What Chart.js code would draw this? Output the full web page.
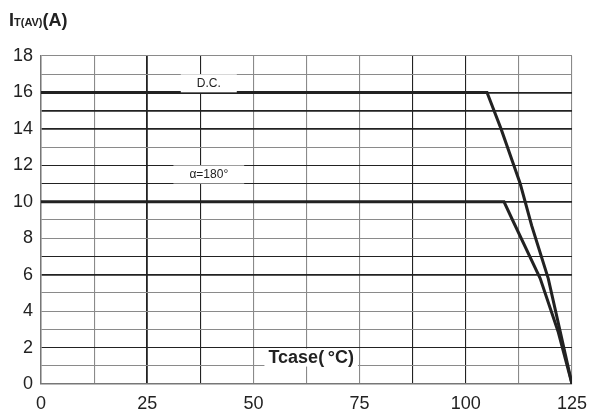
<!DOCTYPE html>
<html>
<head>
<meta charset="utf-8">
<script src="https://cdn.jsdelivr.net/npm/chart.js@4/dist/chart.umd.min.js"></script>
<style>
  html, body { margin: 0; padding: 0; background: #fff; }
  #wrap { width: 592px; height: 419px; position: relative; }
</style>
</head>
<body>
<div id="wrap"><canvas id="chart"></canvas></div>
<script>
// Tcase (°C) -> IT(AV) (A)
const dcTemp = [0, 105, 108.3, 112.8, 115.5, 119.4, 122.2, 125];
const dcCurrent = [16, 16, 14, 11, 8.7, 5.8, 2.9, 0];
const halfTemp = [0, 109, 111, 117.5, 121.7, 125];
const halfCurrent = [10, 10, 9, 5.8, 2.9, 0];

const xTickLabels = [0, 25, 50, 75, 100, 125];
const yTickLabels = [0, 2, 4, 6, 8, 10, 12, 14, 16, 18];

// grid lines drawn darker in the original
const darkY = [2, 6, 7, 10, 11, 12, 14, 15, 16];
const darkX = [25, 37.5, 87.5, 100];

const toPoints = (xs, ys) => xs.map((x, i) => ({ x, y: ys[i] }));

const FONT = '"Liberation Sans", Arial, sans-serif';

const labelsPlugin = {
  id: 'labels',
  afterDatasetsDraw(chart) {
    const { ctx, scales } = chart;
    const x = scales.x, y = scales.y;
    function boxed(text, vx, vy, font, padX) {
      ctx.save();
      ctx.font = font;
      const w = ctx.measureText(text).width;
      const px = x.getPixelForValue(vx), py = y.getPixelForValue(vy);
      ctx.fillStyle = '#fff';
      ctx.fillRect(px - w / 2 - padX, py - 9, w + padX * 2, 18);
      ctx.fillStyle = '#222';
      ctx.textAlign = 'center';
      ctx.textBaseline = 'middle';
      ctx.fillText(text, px, py);
      ctx.restore();
    }
    boxed('D.C.', 39.5, 16.5, '12px ' + FONT, 16);
    boxed('α=180°', 39.5, 11.5, '12px ' + FONT, 16);
    boxed('Tcase(\u2009°C)', 63.6, 1.45, 'bold 18px ' + FONT, 4);

    // axis title top left
    ctx.save();
    ctx.fillStyle = '#222';
    ctx.textBaseline = 'alphabetic';
    ctx.font = 'bold 18px ' + FONT;
    ctx.fillText('I', 9, 26);
    let off = 9 + ctx.measureText('I').width;
    ctx.font = 'bold 11px ' + FONT;
    ctx.fillText('T(AV)', off, 26);
    off += ctx.measureText('T(AV)').width;
    ctx.font = 'bold 18px ' + FONT;
    ctx.fillText('(A)', off, 26);
    ctx.restore();
  }
};

new Chart(document.getElementById('chart'), {
  type: 'line',
  data: {
    datasets: [
      { label: 'D.C.', data: toPoints(dcTemp, dcCurrent), borderColor: '#222', borderWidth: 3, pointRadius: 0, tension: 0 },
      { label: 'α=180°', data: toPoints(halfTemp, halfCurrent), borderColor: '#222', borderWidth: 3, pointRadius: 0, tension: 0 }
    ]
  },
  options: {
    responsive: true,
    maintainAspectRatio: false,
    animation: false,
    layout: { padding: { left: 0, right: 0, top: 56, bottom: 0 } },
    plugins: { legend: { display: false }, tooltip: { enabled: false } },
    scales: {
      x: {
        type: 'linear',
        min: 0,
        max: 125,
        afterBuildTicks(axis) {
          const t = [];
          for (let v = 0; v <= 125; v += 12.5) t.push({ value: v });
          axis.ticks = t;
        },
        ticks: {
          autoSkip: false,
          maxRotation: 0,
          padding: 9,
          color: '#222',
          font: { family: FONT, size: 18 },
          callback: (v) => (xTickLabels.includes(v) ? String(v) : '')
        },
        grid: {
          drawTicks: false,
          color: (c) => (darkX.includes(c.tick && c.tick.value) ? '#222' : '#8a8a8a'),
          lineWidth: (c) => (c.tick && c.tick.value === 25 ? 1.8 : 1.1)
        },
        border: { color: '#777', width: 1.5 },
        afterFit(axis) {
          axis.height = 35;
          axis.paddingRight = 20;
          axis.paddingLeft = 0;
        }
      },
      y: {
        min: 0,
        max: 18,
        ticks: {
          stepSize: 1,
          autoSkip: false,
          padding: 8,
          color: '#222',
          font: { family: FONT, size: 18 },
          callback: (v) => (yTickLabels.includes(v) ? String(v) : '')
        },
        grid: {
          drawTicks: false,
          color: (c) => (darkY.includes(c.tick && c.tick.value) ? '#222' : '#8a8a8a'),
          lineWidth: (c) => ([6, 10, 14, 15, 16].includes(c.tick && c.tick.value) ? 1.8 : 1.1)
        },
        border: { color: '#777', width: 1.5 },
        afterFit(axis) { axis.width = 41; }
      }
    }
  },
  plugins: [labelsPlugin]
});
</script>
</body>
</html>
